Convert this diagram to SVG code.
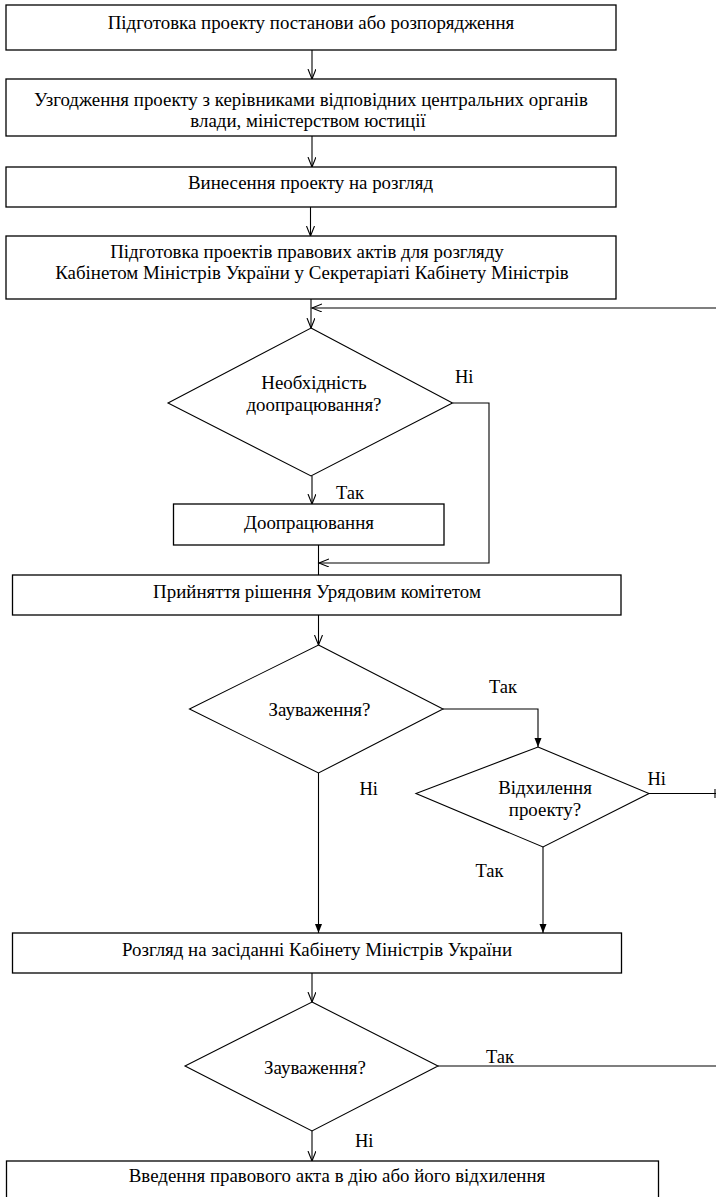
<svg xmlns="http://www.w3.org/2000/svg" width="716" height="1197" viewBox="0 0 716 1197">
<defs>
<style>
.box{fill:#fff;stroke:#000;stroke-width:1.3}
.dia{fill:#fff;stroke:#000;stroke-width:1.1}
.t{font-size:18.9px;fill:#000;text-anchor:middle}
.lbl{font-size:18.5px;fill:#000}
.c{fill:none;stroke:#000;stroke-width:1.1}
</style>
<marker id="open" markerUnits="userSpaceOnUse" markerWidth="12" markerHeight="10" refX="10" refY="4" orient="auto">
<path d="M0,0 L10,4 L0,8" fill="none" stroke="#000" stroke-width="1.1"/>
</marker>
<marker id="fill" markerUnits="userSpaceOnUse" markerWidth="10" markerHeight="8" refX="9" refY="3.5" orient="auto">
<path d="M0,0 L9,3.5 L0,7 z" fill="#000"/>
</marker>
</defs>
<rect width="716" height="1197" fill="#fff"/>

<g id="connectors">
<line class="c" x1="312" y1="50" x2="312" y2="79" marker-end="url(#open)"/>
<line class="c" x1="312" y1="136" x2="312" y2="167" marker-end="url(#open)"/>
<line class="c" x1="310.5" y1="207" x2="310.5" y2="236" marker-end="url(#open)"/>
<line class="c" x1="311" y1="299" x2="311" y2="328" marker-end="url(#open)"/>
<line class="c" x1="716" y1="308" x2="312" y2="308" marker-end="url(#open)"/>
<line class="c" x1="312" y1="476" x2="312" y2="504" marker-end="url(#open)"/>
<polyline class="c" points="452.5,403 489,403 489,563 319,563" marker-end="url(#open)"/>
<line class="c" x1="318.5" y1="545" x2="318.5" y2="575"/>
<line class="c" x1="318.5" y1="615" x2="318.5" y2="645" marker-end="url(#open)"/>
<polyline class="c" points="443,709 538,709 538,747" marker-end="url(#fill)"/>
<line class="c" x1="318.5" y1="773" x2="318.5" y2="933" marker-end="url(#fill)"/>
<line class="c" x1="543" y1="847" x2="543" y2="933" marker-end="url(#fill)"/>
<line class="c" x1="649" y1="793.5" x2="716" y2="793.5"/>
<line class="c" x1="715" y1="789" x2="715" y2="798"/>
<line class="c" x1="312" y1="973" x2="312" y2="1002" marker-end="url(#open)"/>
<line class="c" x1="438" y1="1066" x2="716" y2="1066"/>
<line class="c" x1="312" y1="1131" x2="312" y2="1161" marker-end="url(#open)"/>
</g>

<g font-family="'Liberation Serif', 'DejaVu Serif', serif">
<g id="n1">
<rect class="box" x="6" y="5" width="610" height="45"/>
<text class="t" x="311" y="29">Підготовка проекту постанови або розпорядження</text>
</g>
<g id="n2">
<rect class="box" x="6" y="79" width="610" height="57"/>
<text class="t" x="311" y="106">Узгодження проекту з керівниками відповідних центральних органів</text>
<text class="t" x="308" y="127">влади, міністерством юстиції</text>
</g>
<g id="n3">
<rect class="box" x="6" y="167" width="610" height="40"/>
<text class="t" x="310.5" y="189">Винесення проекту на розгляд</text>
</g>
<g id="n4">
<rect class="box" x="6" y="236" width="610" height="63"/>
<text class="t" x="307" y="258">Підготовка проектів правових актів для розгляду</text>
<text class="t" x="312" y="279">Кабінетом Міністрів України у Секретаріаті Кабінету Міністрів</text>
</g>
<g id="d1">
<polygon class="dia" points="311,328 452.5,403 311,476 168,403"/>
<text class="t" x="314" y="389">Необхідність</text>
<text class="t" x="314" y="411">доопрацювання?</text>
<text class="lbl" x="455" y="383">Ні</text>
<text class="lbl" x="336" y="499">Так</text>
</g>
<g id="n5">
<rect class="box" x="173.5" y="504" width="270.5" height="41"/>
<text class="t" x="309" y="529">Доопрацювання</text>
</g>
<g id="n6">
<rect class="box" x="12.5" y="575" width="608.5" height="40"/>
<text class="t" x="317" y="598">Прийняття рішення Урядовим комітетом</text>
</g>
<g id="d2">
<polygon class="dia" points="318.5,645 443,709 318.5,773 189.5,709"/>
<text class="t" x="319.5" y="716">Зауваження?</text>
<text class="lbl" x="489" y="693">Так</text>
<text class="lbl" x="359.5" y="795">Ні</text>
</g>
<g id="d3">
<polygon class="dia" points="538,747 649,793.5 543,847 416,793.5"/>
<text class="t" x="545" y="794">Відхилення</text>
<text class="t" x="545" y="816">проекту?</text>
<text class="lbl" x="647.5" y="785">Ні</text>
<text class="lbl" x="475.5" y="877">Так</text>
</g>
<g id="n7">
<rect class="box" x="12.5" y="933" width="609" height="40"/>
<text class="t" x="317" y="956">Розгляд на засіданні Кабінету Міністрів України</text>
</g>
<g id="d4">
<polygon class="dia" points="312,1002 438,1066 312,1131 185,1066"/>
<text class="t" x="315" y="1074">Зауваження?</text>
<text class="lbl" x="486" y="1063">Так</text>
<text class="lbl" x="355" y="1147">Ні</text>
</g>
<g id="n8">
<rect class="box" x="6.5" y="1161" width="652" height="45"/>
<text class="t" x="337" y="1182">Введення правового акта в дію або його відхилення</text>
</g>
</g>
</svg>
